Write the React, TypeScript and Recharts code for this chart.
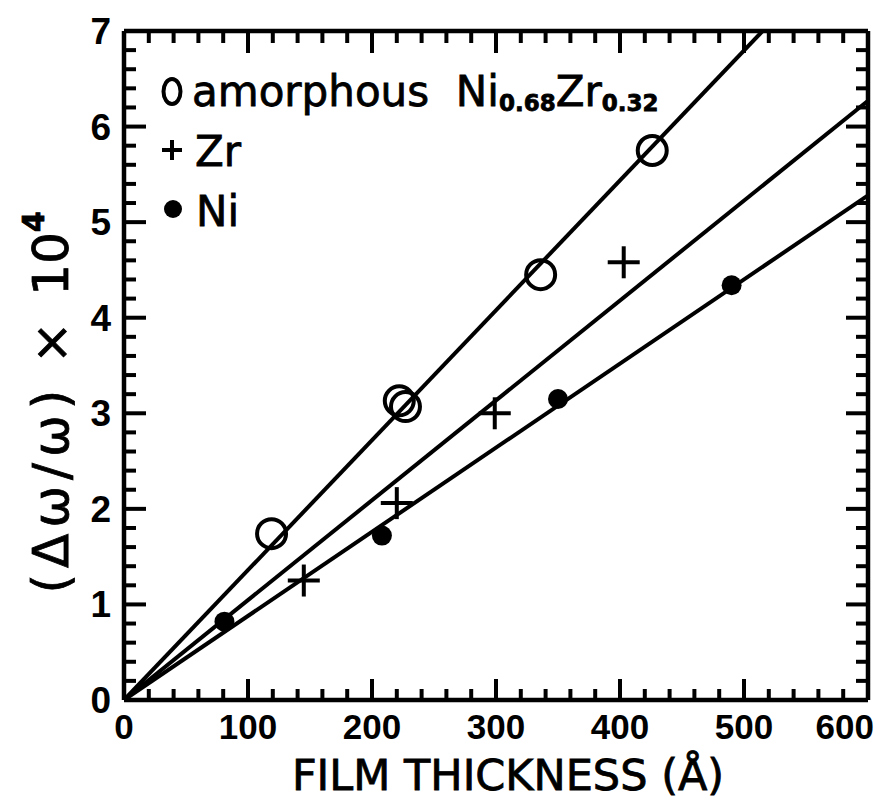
import React from 'react';
import { ComposedChart, Scatter, XAxis, YAxis, Legend, Label } from 'recharts';

// ---- data ----
const amorphousX = [119, 222, 227, 336, 426];
const amorphousY = [1.74, 3.13, 3.07, 4.45, 5.75];
const zrX = [145, 220, 299, 403];
const zrY = [1.25, 2.06, 3.0, 4.58];
const niX = [81, 208, 350, 490];
const niY = [0.82, 1.72, 3.15, 4.34];

// fitted straight lines (start, end)
const amorphousFitX = [0, 515];
const amorphousFitY = [0, 7];
const zrFitX = [0, 600];
const zrFitY = [0, 6.27];
const niFitX = [0, 600];
const niFitY = [0, 5.28];

const xMajorTicks = [0, 100, 200, 300, 400, 500, 600];
const yMajorTicks = [0, 1, 2, 3, 4, 5, 6, 7];
const xTicks: number[] = [];
for (let i = 0; i <= 30; i++) xTicks.push(i * 20);
const yTicks: number[] = [];
for (let i = 0; i <= 35; i++) yTicks.push(i / 5);

const zip = (xs: number[], ys: number[]) => xs.map((x, i) => ({ x, y: ys[i] }));
const amorphousData = zip(amorphousX, amorphousY);
const zrData = zip(zrX, zrY);
const niData = zip(niX, niY);
const amorphousFit = zip(amorphousFitX, amorphousFitY);
const zrFit = zip(zrFitX, zrFitY);
const niFit = zip(niFitX, niFitY);

const INK = '#000';
const TICK_FONT = '"Liberation Sans", Arial, sans-serif';
const TITLE_FONT = '"DejaVu Sans", sans-serif';

const isMajorX = (v: number) => xMajorTicks.includes(Math.round(v));
const isMajorY = (v: number) => yMajorTicks.some((m) => Math.abs(v - m) < 1e-6);

const BottomTick = (p: any) => {
  const { x, y, payload } = p;
  const v = payload.value;
  const major = isMajorX(v);
  const last = Math.round(v) === 600;
  return (
    <g>
      <line x1={x} x2={x} y1={y} y2={y - (major ? 21 : 11)} stroke={INK} strokeWidth={4} />
      {major && (
        <text
          x={last ? x + 6 : x}
          y={y + 39}
          textAnchor={last ? 'end' : 'middle'}
          fontFamily={TICK_FONT}
          fontWeight="bold"
          fontSize={35}
          fill={INK}
        >
          {Math.round(v)}
        </text>
      )}
    </g>
  );
};

const TopTick = (p: any) => {
  const { x, y, payload } = p;
  const major = isMajorX(payload.value);
  return <line x1={x} x2={x} y1={y} y2={y + (major ? 22 : 12)} stroke={INK} strokeWidth={4} />;
};

const LeftTick = (p: any) => {
  const { x, y, payload } = p;
  const v = payload.value;
  const major = isMajorY(v);
  return (
    <g>
      <line x1={x} x2={x + (major ? 22 : 12)} y1={y} y2={y} stroke={INK} strokeWidth={4} />
      {major && (
        <text x={x - 13} y={y + 13} textAnchor="end" fontFamily={TICK_FONT} fontWeight="bold" fontSize={37} fill={INK}>
          {Math.round(v)}
        </text>
      )}
    </g>
  );
};

const RightTick = (p: any) => {
  const { x, y, payload } = p;
  const major = isMajorY(payload.value);
  return <line x1={x} x2={x - (major ? 22 : 12)} y1={y} y2={y} stroke={INK} strokeWidth={4} />;
};

const OpenCircle = (p: any) => (
  <circle cx={p.cx} cy={p.cy} r={14.5} fill="none" stroke={INK} strokeWidth={4} />
);
const Plus = (p: any) => (
  <g stroke={INK} strokeWidth={4}>
    <line x1={p.cx - 16} x2={p.cx + 16} y1={p.cy} y2={p.cy} />
    <line x1={p.cx} x2={p.cx} y1={p.cy - 16} y2={p.cy + 16} />
  </g>
);
const Dot = (p: any) => <circle cx={p.cx} cy={p.cy} r={10} fill={INK} />;
const NoShape = () => <g />;

const LegendContent = () => {
  const row: React.CSSProperties = {
    height: 60,
    lineHeight: '60px',
    fontFamily: TITLE_FONT,
    fontSize: 42,
    color: INK,
    whiteSpace: 'nowrap',
    WebkitTextStroke: '0.8px #000',
  };
  const sub: React.CSSProperties = { fontSize: 23, fontWeight: 'bold', verticalAlign: '-5px' };
  return (
    <div style={{ textAlign: 'left' }}>
      <div style={row}>
        <svg width={22} height={29} style={{ verticalAlign: 'baseline', marginRight: 9 }}>
          <ellipse cx={11} cy={14.5} rx={8.5} ry={12.5} fill="none" stroke={INK} strokeWidth={4} />
        </svg>
        amorphous&nbsp;&nbsp;Ni<span style={sub}>0.68</span>Zr<span style={sub}>0.32</span>
      </div>
      <div style={row}>
        <svg width={22} height={32} style={{ verticalAlign: 'baseline', marginRight: 12 }}>
          <line x1={1} x2={21} y1={16} y2={16} stroke={INK} strokeWidth={4} />
          <line x1={11} x2={11} y1={6} y2={26} stroke={INK} strokeWidth={4} />
        </svg>
        Zr
      </div>
      <div style={row}>
        <svg width={22} height={34} style={{ verticalAlign: 'baseline', marginRight: 13 }}>
          <circle cx={12} cy={17} r={9} fill={INK} />
        </svg>
        Ni
      </div>
    </div>
  );
};

const YTitle = (p: any) => {
  const vb = p.viewBox || { x: 64, y: 31, width: 60, height: 669 };
  const tx = vb.x + 4;
  const ty = vb.y + vb.height / 2 + 228;
  return (
    <text
      transform={`translate(${tx},${ty}) rotate(-90)`}
      x={0}
      y={0}
      textAnchor="start"
      fontFamily={TITLE_FONT}
      fontSize={50}
      fill={INK}
      stroke={INK}
      strokeWidth={0.8}
    >
      <tspan letterSpacing={6}>(Δω/ω)</tspan>
      <tspan dx={20}>×</tspan>
      <tspan dx={26}>10</tspan>
      <tspan dy={-24} fontSize={30} fontWeight="bold">4</tspan>
    </text>
  );
};

export default function App() {
  return (
    <div style={{ position: 'absolute', left: 0, top: 0, width: 886, height: 802, background: '#fff' }}>
      <ComposedChart width={886} height={802} margin={{ top: 30, right: 17, bottom: 62, left: 64 }}>
        <XAxis
          xAxisId="b"
          type="number"
          dataKey="x"
          domain={[0, 600]}
          allowDataOverflow
          ticks={xTicks}
          interval={0}
          height={40}
          tickSize={0}
          tickMargin={0}
          tickLine={false}
          axisLine={{ stroke: INK, strokeWidth: 4.5 }}
          tick={<BottomTick />}
        >
          <Label
            value="FILM THICKNESS (Å)"
            position="bottom"
            offset={19}
            dx={12}
            style={{ fontFamily: TITLE_FONT, fontSize: 43, fill: INK, stroke: INK, strokeWidth: 0.8 }}
          />
        </XAxis>
        <XAxis
          xAxisId="t"
          orientation="top"
          type="number"
          dataKey="x"
          domain={[0, 600]}
          allowDataOverflow
          ticks={xTicks}
          interval={0}
          height={1}
          tickSize={0}
          tickMargin={0}
          tickLine={false}
          axisLine={{ stroke: INK, strokeWidth: 4.5 }}
          tick={<TopTick />}
        />
        <YAxis
          yAxisId="l"
          type="number"
          dataKey="y"
          domain={[0, 7]}
          allowDataOverflow
          ticks={yTicks}
          interval={0}
          width={60}
          tickSize={0}
          tickMargin={0}
          tickLine={false}
          axisLine={{ stroke: INK, strokeWidth: 4.5 }}
          tick={<LeftTick />}
        >
          <Label content={<YTitle />} />
        </YAxis>
        <YAxis
          yAxisId="r"
          orientation="right"
          type="number"
          dataKey="y"
          domain={[0, 7]}
          allowDataOverflow
          ticks={yTicks}
          interval={0}
          width={1}
          tickSize={0}
          tickMargin={0}
          tickLine={false}
          axisLine={{ stroke: INK, strokeWidth: 4.5 }}
          tick={<RightTick />}
        />
        <Legend
          layout="vertical"
          align="center"
          verticalAlign="middle"
          content={<LegendContent />}
          wrapperStyle={{ left: 161, top: 62, width: 540, height: 180 }}
        />
        <Scatter
          name="amorphous fit"
          data={amorphousFit}
          xAxisId="t"
          yAxisId="r"
          line={{ stroke: INK, strokeWidth: 4 }}
          shape={NoShape}
          legendType="none"
          isAnimationActive={false}
        />
        <Scatter
          name="Zr fit"
          data={zrFit}
          xAxisId="t"
          yAxisId="r"
          line={{ stroke: INK, strokeWidth: 4 }}
          shape={NoShape}
          legendType="none"
          isAnimationActive={false}
        />
        <Scatter
          name="Ni fit"
          data={niFit}
          xAxisId="t"
          yAxisId="r"
          line={{ stroke: INK, strokeWidth: 4 }}
          shape={NoShape}
          legendType="none"
          isAnimationActive={false}
        />
        <Scatter name="amorphous Ni0.68Zr0.32" data={amorphousData} xAxisId="b" yAxisId="l" shape={OpenCircle} isAnimationActive={false} />
        <Scatter name="Zr" data={zrData} xAxisId="b" yAxisId="l" shape={Plus} isAnimationActive={false} />
        <Scatter name="Ni" data={niData} xAxisId="b" yAxisId="l" shape={Dot} isAnimationActive={false} />
      </ComposedChart>
    </div>
  );
}
